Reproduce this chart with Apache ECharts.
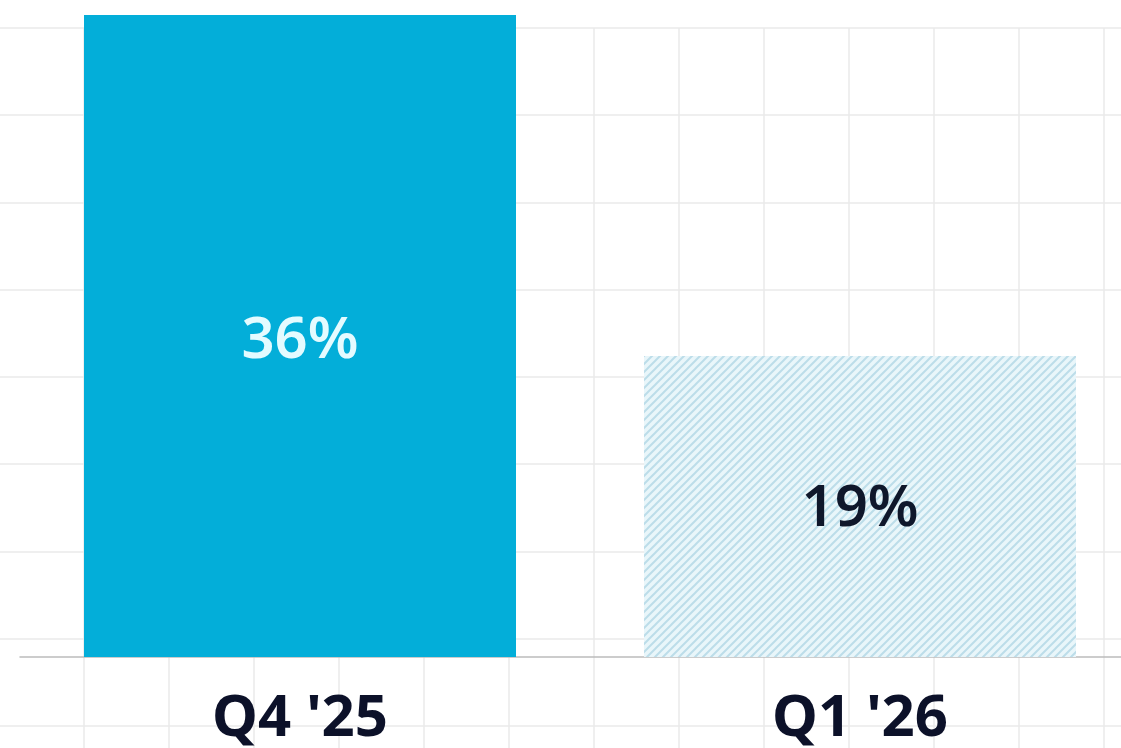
<!DOCTYPE html>
<html>
<head>
<meta charset="utf-8">
<script src="https://cdn.jsdelivr.net/npm/echarts@6/dist/echarts.min.js"></script>
<style>
html,body{margin:0;padding:0;background:#fff;}
#c{width:1121px;height:748px;}
</style>
</head>
<body>
<div id="c"></div>
<script>
// Data
const categories = ["Q4 '25", "Q1 '26"];
const values = [36, 19];
const valueLabels = ['36%', '19%'];

// hatch pattern for forecast bar
function hatch() {
  const s = 8;
  const cv = document.createElement('canvas');
  cv.width = s; cv.height = s;
  const ctx = cv.getContext('2d');
  ctx.fillStyle = '#e9f6fa';
  ctx.fillRect(0, 0, s, s);
  ctx.strokeStyle = '#bcdde9';
  ctx.lineWidth = 2;
  ctx.beginPath();
  ctx.moveTo(-s, 2 * s); ctx.lineTo(2 * s, -s);
  ctx.moveTo(-2 * s, 2 * s); ctx.lineTo(s, -s);
  ctx.moveTo(0, 2 * s); ctx.lineTo(3 * s, -s);
  ctx.stroke();
  return cv;
}

const chart = echarts.init(document.getElementById('c'), null, {renderer: 'canvas'});
const gridLine = {show: true, showMinLine: true, showMaxLine: true, lineStyle: {color: '#eaeaea', width: 1.5}};
chart.setOption({
  animation: false,
  backgroundColor: '#ffffff',
  grid: [
    {left: 20, width: 1120, top: 15, height: 642, outerBoundsMode: 'none', containLabel: false},
    {left: -1, width: 1190, top: 28, height: 785, outerBoundsMode: 'none', containLabel: false}
  ],
  xAxis: [
    {
      type: 'category', data: categories, gridIndex: 0,
      axisLine: {show: true, lineStyle: {color: '#bcbcbc', width: 1.5}},
      axisTick: {show: false},
      axisLabel: {
        margin: 33, fontSize: 58, fontWeight: 'bold',
        fontFamily: 'Noto Sans', color: '#0c1129'
      },
      splitLine: {show: false}, z: 3
    },
    {
      type: 'value', gridIndex: 1, min: 0, max: 14, interval: 1,
      axisLine: {show: false}, axisTick: {show: false}, axisLabel: {show: false},
      splitLine: gridLine, z: 0
    }
  ],
  yAxis: [
    {
      type: 'value', gridIndex: 0, min: 4, max: 36,
      axisLine: {show: false}, axisTick: {show: false}, axisLabel: {show: false},
      splitLine: {show: false}
    },
    {
      type: 'value', gridIndex: 1, min: 0, max: 9, interval: 1, inverse: true,
      axisLine: {show: false}, axisTick: {show: false}, axisLabel: {show: false},
      splitLine: gridLine, z: 0
    }
  ],
  series: [{
    type: 'bar',
    xAxisIndex: 0, yAxisIndex: 0,
    barWidth: 432,
    z: 5,
    data: values.map((v, i) => ({
      value: v,
      itemStyle: {color: i === 0 ? '#03aed9' : {image: hatch(), repeat: 'repeat'}},
      label: {
        show: true, position: 'inside', offset: [0, i === 0 ? 5 : 3],
        formatter: valueLabels[i],
        fontSize: 58, fontWeight: 600, fontFamily: 'Noto Sans',
        color: i === 0 ? '#e4fbff' : '#0f172b'
      }
    }))
  }]
});
</script>
</body>
</html>
